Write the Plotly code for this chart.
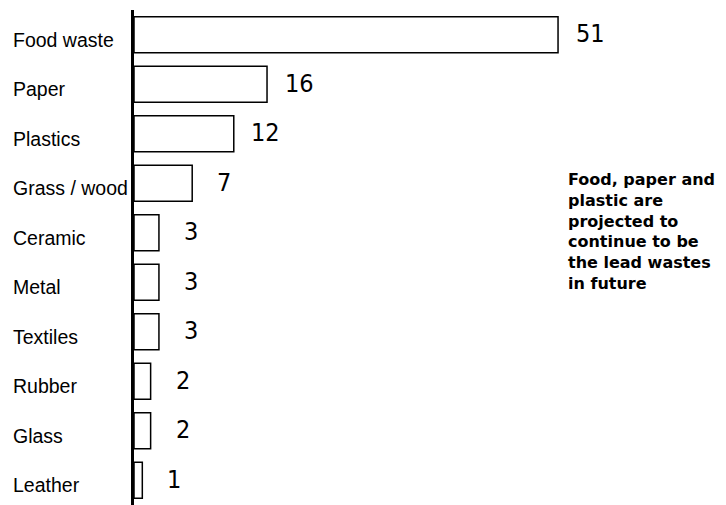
import plotly.graph_objects as go

CATEGORIES = [
    "Food waste",
    "Paper",
    "Plastics",
    "Grass / wood",
    "Ceramic",
    "Metal",
    "Textiles",
    "Rubber",
    "Glass",
    "Leather",
]
SHARES = [51, 16, 12, 7, 3, 3, 3, 2, 2, 1]
NOTE_LINES = [
    "Food, paper and",
    "plastic are",
    "projected to",
    "continue to be",
    "the lead wastes",
    "in future",
]

LABEL_FONT = "Liberation Sans, Arial, sans-serif"
VALUE_FONT = "DejaVu Sans Condensed, Liberation Sans Narrow, Liberation Sans, sans-serif"

fig = go.Figure(
    go.Bar(
        x=SHARES,
        y=CATEGORIES,
        orientation="h",
        marker=dict(color="white", line=dict(color="black", width=1.5)),
        hoverinfo="skip",
    )
)

# category names sit left-aligned at the page edge
for name in CATEGORIES:
    fig.add_annotation(
        x=0, y=name, xref="paper", yref="y",
        xanchor="left", xshift=-123, yshift=-5,
        text=name, showarrow=False,
        font=dict(family=LABEL_FONT, size=19.5, color="black"),
    )

# value labels to the right of each bar
for name, value in zip(CATEGORIES, SHARES):
    fig.add_annotation(
        x=value, y=name, xref="x", yref="y",
        xanchor="center", xshift=32, yshift=1,
        text=str(value), showarrow=False,
        font=dict(family=VALUE_FONT, size=25, color="black"),
    )

fig.add_annotation(
    x=0.735, y=0.552, xref="paper", yref="paper",
    xanchor="left", yanchor="middle", align="left", xshift=-3,
    text="<b>" + "<br>".join(NOTE_LINES) + "</b>",
    showarrow=False,
    font=dict(family="DejaVu Sans, sans-serif", size=16, color="black"),
)

# page body adds an 8px margin, so the figure is trimmed to fit the window
fig.update_layout(
    width=718,
    height=497,
    margin=dict(l=126, r=0, t=2, b=0),
    paper_bgcolor="white",
    plot_bgcolor="white",
    bargap=0.27,
    showlegend=False,
)
fig.update_xaxes(
    range=[0, 71.2], showgrid=False, zeroline=False,
    showticklabels=False, showline=False,
)
fig.update_yaxes(
    autorange="reversed", showgrid=False, showticklabels=False,
    showline=True, linecolor="black", linewidth=3, ticks="",
)

fig.write_html("out.html")
